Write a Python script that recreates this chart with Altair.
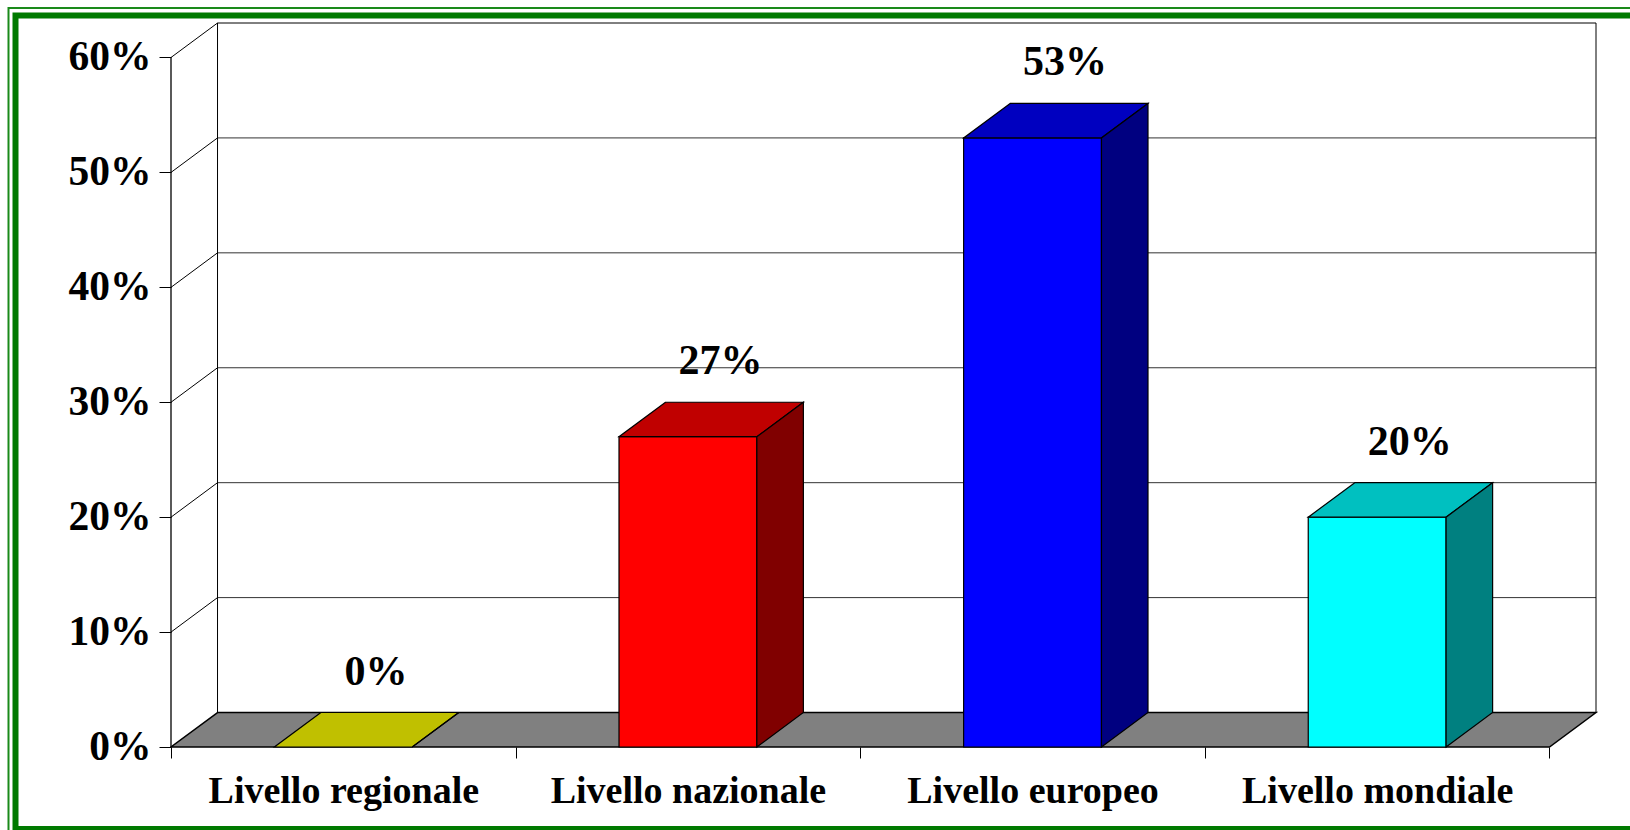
import json
import altair as alt
import pandas as pd

# ---- data -------------------------------------------------------------
categories = ["Livello regionale", "Livello nazionale", "Livello europeo", "Livello mondiale"]
values = [0, 27, 53, 20]
y_ticks = [0, 10, 20, 30, 40, 50, 60]

front_colors = ["#FFFF00", "#FF0000", "#0000FF", "#00FFFF"]
top_colors = ["#C0C000", "#C00000", "#0000C0", "#00C0C0"]
side_colors = ["#808000", "#800000", "#000080", "#008080"]

# ---- 3D geometry constants (style) -------------------------------------
DX = 0.135   # depth offset along x, in category units
DY = 3.0     # depth offset along y, in percent units
HALF = 0.2   # half width of bar front (category units)
N = len(categories)
YMAX = max(y_ticks)

FONT = "Liberation Serif"

xs = alt.Scale(domain=[0, N + DX], nice=False, zero=False)
ys = alt.Scale(domain=[0, YMAX + DY], nice=False, zero=False)

# ---- tables built from the arrays --------------------------------------
front_rows, top_rows, side_rows, label_rows = [], [], [], []
for i, (c, v) in enumerate(zip(categories, values)):
    cx = i + 0.5
    front_rows.append(dict(cat=c, x=cx - HALF, x2=cx + HALF, y=0, y2=v, col=front_colors[i]))
    top_rows.append(dict(cat=c, y=v, x=cx - HALF, x2=cx + HALF, col=top_colors[i]))
    top_rows.append(dict(cat=c, y=v + DY, x=cx - HALF + DX, x2=cx + HALF + DX, col=top_colors[i]))
    side_rows.append(dict(cat=c, x=cx + HALF, y=0, y2=v, col=side_colors[i]))
    side_rows.append(dict(cat=c, x=cx + HALF + DX, y=DY, y2=v + DY, col=side_colors[i]))
    label_rows.append(dict(cat=c, x=cx + DX * 0.7, y=v + DY, text=f"{v}%"))

front_df = pd.DataFrame(front_rows)
front_df = front_df[front_df["y2"] > 0]
top_df = pd.DataFrame(top_rows)
side_df = pd.DataFrame(side_rows)
label_df = pd.DataFrame(label_rows)

floor_df = pd.DataFrame([dict(y=0, x=0, x2=N), dict(y=DY, x=DX, x2=N + DX)])
back_h_df = pd.DataFrame([dict(x=DX, x2=N + DX, y=t + DY, kind="grid" if 0 < t < YMAX else "edge") for t in y_ticks])
back_v_df = pd.DataFrame([dict(x=DX, y=DY, y2=YMAX + DY), dict(x=N + DX, y=DY, y2=YMAX + DY)])
diag_df = pd.DataFrame([dict(x=0, x2=DX, y=t, y2=t + DY) for t in y_ticks if t > 0])
front_axis_df = pd.DataFrame([dict(x=0, y=0, y2=YMAX)])

# ---- axes ----------------------------------------------------------------
x_label_expr = ("datum.value % 1 === 0 ? '' : " + json.dumps(categories) + "[floor(datum.value)]")
x_axis = alt.Axis(
    values=[k / 2 for k in range(0, 2 * N + 1)],
    labelExpr=x_label_expr,
    tickOpacity={"condition": {"test": "datum.value % 1 === 0", "value": 1}, "value": 0},
    tickSize=11, tickColor="black", tickWidth=1,
    domain=False, grid=False, title=None,
    labelFont=FONT, labelFontSize=38, labelFontWeight="bold", labelColor="black",
    labelBaseline="alphabetic", labelPadding=44, labelOverlap=False, labelFlush=False,
    labelBound=False, labelLimit=0,
)
y_axis = alt.Axis(
    values=y_ticks,
    labelExpr="datum.value + '%'",
    tickSize=12, tickColor="black", tickWidth=1,
    domain=False, grid=False, title=None,
    labelFont=FONT, labelFontSize=41.5, labelFontWeight="bold", labelColor="black",
    labelPadding=8, labelOverlap=False, labelFlush=False, labelBound=False, labelLimit=0,
)


def X(f="x"):
    return alt.X(f"{f}:Q", scale=xs, axis=x_axis)


def Y(f="y"):
    return alt.Y(f"{f}:Q", scale=ys, axis=y_axis)


# ---- layers ----------------------------------------------------------------
back_h = alt.Chart(back_h_df).mark_rule(strokeWidth=1).encode(
    x=X(), x2="x2:Q", y=Y(),
    color=alt.Color("kind:N", scale=alt.Scale(domain=["grid", "edge"], range=["#333333", "#000000"]), legend=None),
)
back_v = alt.Chart(back_v_df).mark_rule(color="black", strokeWidth=1).encode(
    x=X(), y=Y(), y2="y2:Q",
)
diag = alt.Chart(diag_df).mark_rule(color="black", strokeWidth=1).encode(
    x=X(), x2="x2:Q", y=Y(), y2="y2:Q",
)
floor = alt.Chart(floor_df).mark_area(orient="horizontal", color="#808080", stroke="black", strokeWidth=1.5).encode(
    y=Y(), x=X(), x2="x2:Q",
)
front_axis = alt.Chart(front_axis_df).mark_rule(color="black", strokeWidth=1.3).encode(
    x=X(), y=Y(), y2="y2:Q",
)
fronts = alt.Chart(front_df).mark_rect(stroke="black", strokeWidth=1.2).encode(
    x=X(), x2="x2:Q", y=Y(), y2="y2:Q",
    fill=alt.Fill("col:N", scale=None),
)
tops = alt.Chart(top_df).mark_area(orient="horizontal", stroke="black", strokeWidth=1.2, opacity=1).encode(
    y=Y(), x=X(), x2="x2:Q",
    detail="cat:N",
    fill=alt.Fill("col:N", scale=None),
)
sides = alt.Chart(side_df).mark_area(orient="vertical", stroke="black", strokeWidth=1.2, opacity=1).encode(
    x=X(), y=Y(), y2="y2:Q",
    detail="cat:N",
    fill=alt.Fill("col:N", scale=None),
)
labels = alt.Chart(label_df).mark_text(
    font=FONT, fontSize=42, fontWeight="bold", color="black", baseline="middle", align="center", dy=-41
).encode(
    x=X(), y=Y(), text="text:N",
)

# decorative double green frame around the slide
frame_outer = alt.Chart(pd.DataFrame([dict(k="outer")])).mark_rect(
    fill=None, stroke="#1A8A1A", strokeWidth=2
).encode(x=alt.value(-162.5), x2=alt.value(1480), y=alt.value(-15), y2=alt.value(850))
frame_inner = alt.Chart(pd.DataFrame([dict(k="inner")])).mark_rect(
    fill=None, stroke="#007A00", strokeWidth=6
).encode(x=alt.value(-155.5), x2=alt.value(1480), y=alt.value(-7.5), y2=alt.value(806))

chart = alt.layer(
    back_h, back_v, diag, floor, front_axis, fronts, tops, sides, labels, frame_outer, frame_inner
).properties(
    width=1425,
    height=724,
    autosize=alt.AutoSizeParams(type="none"),
    padding={"left": 171, "top": 23, "right": 34, "bottom": 83},
    background="white",
).configure_view(stroke=None)

chart.save("out.html", embed_options={"renderer": "svg", "actions": False})
